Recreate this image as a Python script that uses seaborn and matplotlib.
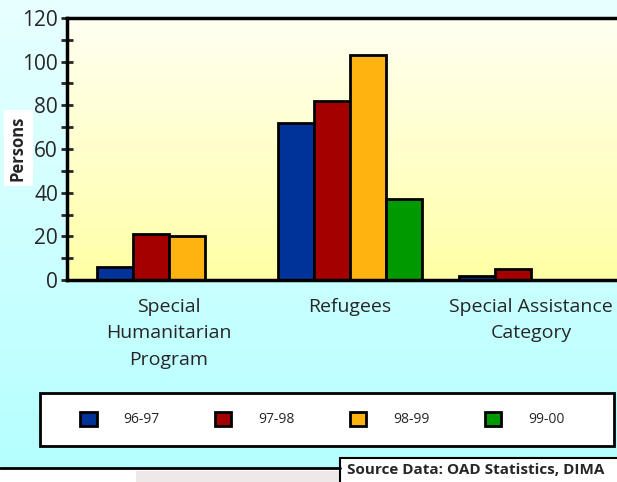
import numpy as np
import pandas as pd
import matplotlib
matplotlib.use("Agg")
import matplotlib.pyplot as plt
import seaborn as sns
from matplotlib.patches import Patch, Rectangle
from matplotlib.ticker import MultipleLocator
from matplotlib.colors import LinearSegmentedColormap

# ---- data ----
categories = ["Special\nHumanitarian\nProgram", "Refugees", "Special Assistance\nCategory"]
years = ["96-97", "97-98", "98-99", "99-00"]
v_96_97 = [6, 72, 2]
v_97_98 = [21, 82, 5]
v_98_99 = [20, 103, np.nan]
v_99_00 = [np.nan, 37, np.nan]
bar_colors = ["#003399", "#A50000", "#FFB311", "#009900"]
source_text = "Source Data: OAD Statistics, DIMA"
y_label = "Persons"

rows = []
for yr, vals in zip(years, [v_96_97, v_97_98, v_98_99, v_99_00]):
    for c, v in zip(categories, vals):
        rows.append({"Category": c, "Year": yr, "Persons": v})
df = pd.DataFrame(rows).dropna()

sns.set_style("white")
plt.rcParams["font.family"] = ["Open Sans", "DejaVu Sans"]

W, H = 617, 482
fig = plt.figure(figsize=(W / 100, H / 100), dpi=100)

# background (figure) gradient + decorative boxes
bg = fig.add_axes([0, 0, 1, 1], zorder=-10)
bg.set_xlim(0, W)
bg.set_ylim(H, 0)
bg.axis("off")
cyan = LinearSegmentedColormap.from_list("cy", ["#E8FFFF", "#B5FFFF"])
grad = np.linspace(0, 1, 256).reshape(-1, 1)
bg.imshow(grad, cmap=cyan, extent=[0, W, 468, 0], aspect="auto")
bg.add_patch(Rectangle((0, 468), W, H - 468, facecolor="white", edgecolor="none"))
bg.add_patch(Rectangle((136, 471), 204, 11, facecolor="#EEE8E8", edgecolor="none"))
bg.plot([0, 340], [468, 468], color="black", lw=2)
# legend frame
bg.add_patch(Rectangle((40, 393), 574, 53, facecolor="white", edgecolor="black", lw=2))
# source box
bg.add_patch(Rectangle((340, 458), 290, 40, facecolor="white", edgecolor="black", lw=1.5))

# main axes
ax_left = 67 / W
ax_right = 633 / W
ax_bottom = (H - 280) / H
ax_top = (H - 18) / H
ax = fig.add_axes([ax_left, ax_bottom, ax_right - ax_left, ax_top - ax_bottom])

yellow = LinearSegmentedColormap.from_list("yl", ["#FFFFF2", "#FFFFA6"])
ax.imshow(grad, cmap=yellow, extent=[-0.564, 2.564, 0, 120], aspect="auto", zorder=0)

sns.barplot(data=df, x="Category", y="Persons", hue="Year", order=categories,
            hue_order=years, palette=bar_colors, width=0.8, edgecolor="black",
            linewidth=2, errorbar=None, ax=ax, legend=False, zorder=2, saturation=1)

ax.set_xlim(-0.564, 2.564)
ax.set_ylim(0, 120)
ax.set_xlabel("")
ax.set_ylabel("")
ax.yaxis.set_major_locator(MultipleLocator(20))
ax.yaxis.set_minor_locator(MultipleLocator(10))
ax.tick_params(axis="y", which="both", direction="inout", length=9, width=2,
               left=True, labelsize=15, pad=2)
ax.tick_params(axis="x", length=0, labelsize=14, pad=13)
for s in ["left", "bottom", "top"]:
    ax.spines[s].set_linewidth(2.5)
    ax.spines[s].set_color("black")
ax.spines["right"].set_visible(False)
for lab in ax.get_xticklabels():
    lab.set_linespacing(1.6)
    lab.set_verticalalignment("top")

# y label
fig.text(18 / W, (H - 148) / H, y_label, rotation=90, fontsize=12, fontweight="bold",
         ha="center", va="center",
         bbox=dict(facecolor="white", edgecolor="none", pad=4))

# legend (frame drawn separately)
handles = [Patch(facecolor=c, edgecolor="black", linewidth=2) for c in bar_colors]
leg = fig.legend(handles, years, ncol=4, loc="center",
                 bbox_to_anchor=(322 / W, (H - 419.5) / H),
                 frameon=False, fontsize=10, borderpad=0,
                 handlelength=1.2, handleheight=1.2, handletextpad=1.9,
                 columnspacing=4.0)

# source text
fig.text(347 / W, (H - 470) / H, source_text, fontsize=11, fontweight="bold",
         ha="left", va="center")

fig.savefig("out.png", dpi=100)
